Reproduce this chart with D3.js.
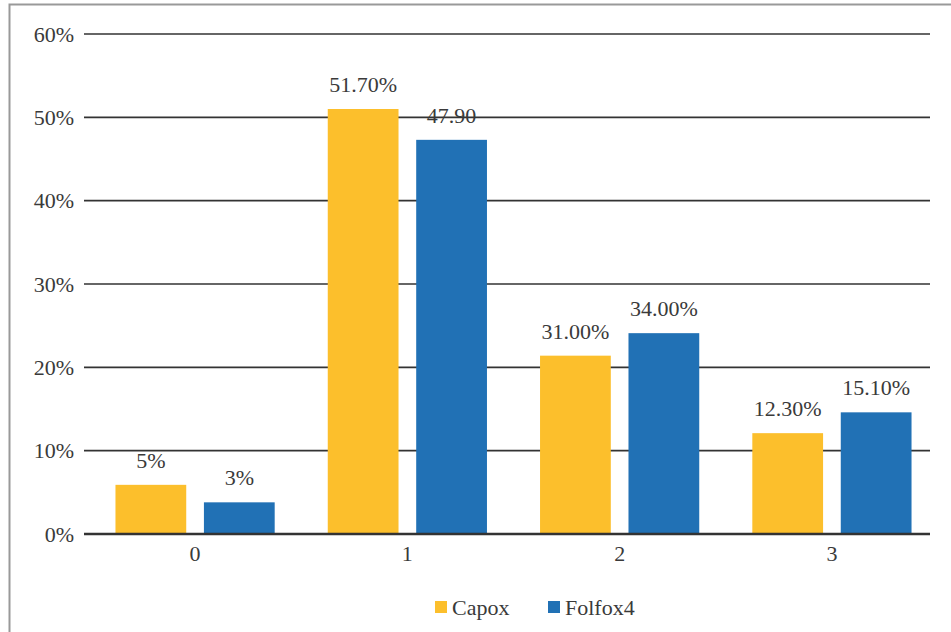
<!DOCTYPE html>
<html><head><meta charset="utf-8">
<script src="https://cdn.jsdelivr.net/npm/d3@7"></script>
<style>body{margin:0;background:#fff}svg{display:block}text{font-family:"Liberation Serif",serif;fill:#3a3a3a}</style>
</head><body><svg id="c" width="951" height="632"></svg>
<script>
const categories = ["0","1","2","3"];
const seriesNames = ["Capox","Folfox4"];
const capoxValues = [5.9, 51.0, 21.4, 12.1];
const folfoxValues = [3.8, 47.3, 24.1, 14.6];
const capoxLabels = ["5%","51.70%","31.00%","12.30%"];
const folfoxLabels = ["3%","47.90","34.00%","15.10%"];
const yTicks = [0,10,20,30,40,50,60];
const colors = ["#FCBF2C","#2171B5"];

(function(){
const svg = d3.select("#c");
const FS = "22px";
svg.append("rect").attr("x",9.5).attr("y",4.5).attr("width",960).attr("height",640)
  .attr("fill","none").attr("stroke","#999").attr("stroke-width",2);

const pLeft=84, pRight=930, pTop=34, pBottom=534;
const y = d3.scaleLinear().domain([0,60]).range([pBottom,pTop]);
const x0 = d3.scaleBand().domain(categories).range([90,937]).paddingInner(0.25).paddingOuter(0.12);
const x1 = d3.scaleBand().domain(seriesNames).range([0,x0.bandwidth()]).paddingInner(0.2);

svg.append("g").selectAll("line").data(yTicks.filter(d=>d>0)).join("line")
  .attr("x1",pLeft).attr("x2",pRight).attr("y1",d=>y(d)).attr("y2",d=>y(d))
  .attr("stroke","#333").attr("stroke-width",1.6);

const yAxis = d3.axisLeft(y).tickValues(yTicks).tickFormat(d=>d+"%").tickSize(0).tickPadding(10);
const ya = svg.append("g").attr("transform",`translate(${pLeft},0)`).call(yAxis);
ya.select(".domain").remove();
ya.selectAll("text").style("font-size",FS).style("font-family","Liberation Serif").attr("fill","#3a3a3a");

const data = categories.map((c,i)=>({c, vals:[
  {s:"Capox",v:capoxValues[i],l:capoxLabels[i]},
  {s:"Folfox4",v:folfoxValues[i],l:folfoxLabels[i]}]}));

const g = svg.append("g").selectAll("g").data(data).join("g")
  .attr("transform",d=>`translate(${x0(d.c)},0)`);
g.selectAll("rect").data(d=>d.vals).join("rect")
  .attr("x",d=>x1(d.s)).attr("width",x1.bandwidth())
  .attr("y",d=>y(d.v)).attr("height",d=>pBottom-y(d.v))
  .attr("fill",(d,i)=>colors[i]);
g.selectAll("text").data(d=>d.vals).join("text")
  .attr("x",d=>x1(d.s)+x1.bandwidth()/2).attr("y",d=>y(d.v)-17)
  .attr("text-anchor","middle").style("font-size",FS).text(d=>d.l);

svg.append("line").attr("x1",pLeft).attr("x2",pRight).attr("y1",pBottom).attr("y2",pBottom)
  .attr("stroke","#333").attr("stroke-width",2.5);

const xAxis = d3.axisBottom(x0).tickSize(0).tickPadding(11);
const xa = svg.append("g").attr("transform",`translate(0,${pBottom})`).call(xAxis);
xa.select(".domain").remove();
xa.selectAll("text").style("font-size",FS).style("font-family","Liberation Serif").attr("fill","#3a3a3a");

const legendX = [435,548];
const lg = svg.append("g").selectAll("g").data(seriesNames).join("g")
  .attr("transform",(d,i)=>`translate(${legendX[i]},601)`);
lg.append("rect").attr("width",12).attr("height",12).attr("fill",(d,i)=>colors[i]);
lg.append("text").attr("x",17).attr("y",14).style("font-size",FS).text(d=>d);
})();
</script></body></html>
